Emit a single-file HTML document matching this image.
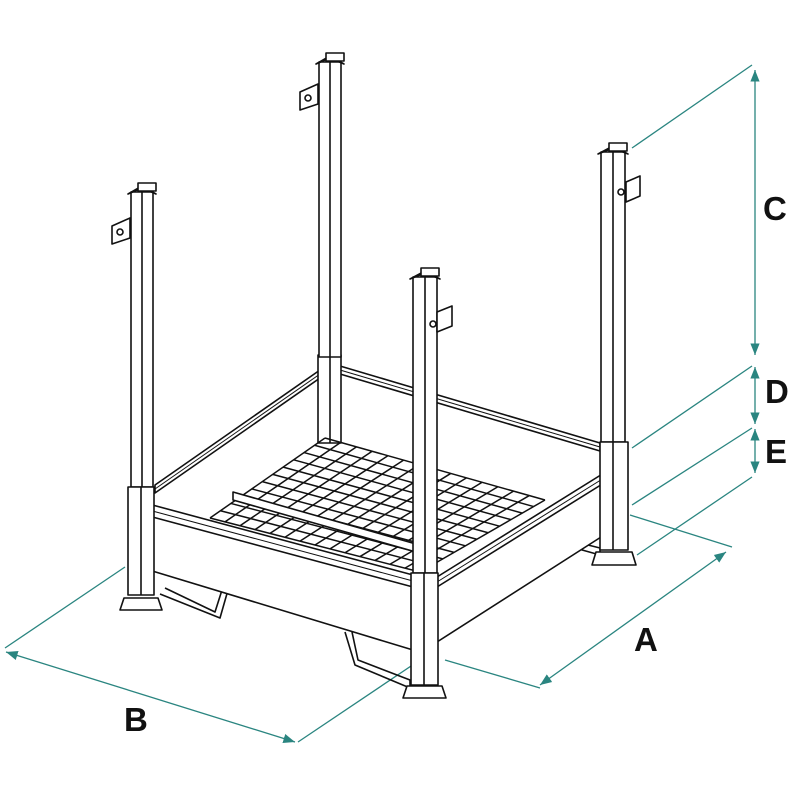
<!DOCTYPE html>
<html><head><meta charset="utf-8"><style>
html,body{margin:0;padding:0;background:#fff;width:800px;height:800px;overflow:hidden}
svg{display:block}
text{font-family:"Liberation Sans",sans-serif;font-weight:bold;font-size:33px;fill:#111}
</style></head><body>
<svg id="s" width="800" height="800" viewBox="0 0 800 800" xmlns="http://www.w3.org/2000/svg">
<defs>
<marker id="ar" viewBox="0 0 10 10" refX="10" refY="5" markerWidth="9" markerHeight="9" orient="auto-start-reverse"><path d="M0,1 L10,5 L0,9 z" fill="#2a8580"/></marker>
</defs>
<g stroke="#2a8580" stroke-width="1.3" fill="none">
<line x1="632" y1="148" x2="752" y2="65"/>
<line x1="755" y1="70" x2="755" y2="355" marker-start="url(#ar)" marker-end="url(#ar)"/>
<line x1="632" y1="448" x2="752" y2="366"/>
<line x1="755" y1="367" x2="755" y2="424" marker-start="url(#ar)" marker-end="url(#ar)"/>
<line x1="632" y1="505" x2="752" y2="428"/>
<line x1="755" y1="429" x2="755" y2="473" marker-start="url(#ar)" marker-end="url(#ar)"/>
<line x1="637" y1="555" x2="752" y2="477"/>
<line x1="445" y1="660" x2="540" y2="688"/>
<line x1="630" y1="515" x2="732" y2="547"/>
<line x1="540" y1="685" x2="726" y2="552" marker-start="url(#ar)" marker-end="url(#ar)"/>
<line x1="5" y1="648" x2="125" y2="567"/>
<line x1="298" y1="742" x2="420" y2="660"/>
<line x1="6" y1="652" x2="295" y2="742" marker-start="url(#ar)" marker-end="url(#ar)"/>
</g>
<text x="763" y="220">C</text>
<text x="765" y="403">D</text>
<text x="765" y="463">E</text>
<text x="634" y="651">A</text>
<text x="124" y="731">B</text>

<g id="draw" stroke="#111" stroke-width="1.6" fill="#fff" stroke-linejoin="round">
<path d="M165,588 L215,612 L222,590 L228,590 L220,618 L160,594" fill="none"/>
<path d="M345,632 L355,665 L410,688 L410,680 L358,660 L352,632" fill="none"/>
<path d="M575,548 L600,555 L600,548 L580,543" fill="none"/>
<path d="M155,485 L320,370 L320,378 L155,493 z"/>
<line x1="155" y1="489" x2="320" y2="374" stroke-width="1"/>
<path d="M340,366 L600,443 L600,451 L340,374 z"/>
<line x1="340" y1="370" x2="600" y2="447" stroke-width="1"/>
<rect x="318" y="355" width="23" height="88"/>
<line x1="330" y1="355" x2="330" y2="443"/>
<g id="grid" stroke-width="1.5" fill="none"></g>
<path d="M233,492 L430,548 L430,556 L233,500 z"/>
<path d="M145,503 L413,575 L413,650 L149,570 z"/>
<line x1="145" y1="515" x2="413" y2="587"/>
<line x1="145" y1="509" x2="413" y2="581" stroke-width="1"/>
<path d="M437,577 L612,468 L612,530 L437,642 z"/>
<line x1="437" y1="587" x2="612" y2="478"/>
<line x1="437" y1="582" x2="612" y2="473" stroke-width="1"/>
<rect x="131" y="192" width="22" height="295"/><line x1="142" y1="192" x2="142" y2="487"/>
<rect x="319" y="62" width="22" height="295"/><line x1="330" y1="62" x2="330" y2="357"/>
<rect x="601" y="152" width="24" height="290"/><line x1="613" y1="152" x2="613" y2="442"/>
<rect x="413" y="277" width="24" height="296"/><line x1="425" y1="277" x2="425" y2="573"/>
<path d="M128,194 L142,186 L156,194 L142,188 z"/><rect x="138" y="183" width="18" height="8"/>
<path d="M316,64 L330,56 L344,64 L330,58 z"/><rect x="326" y="53" width="18" height="8"/>
<path d="M598,154 L613,146 L628,154 L613,148 z"/><rect x="609" y="143" width="18" height="8"/>
<path d="M410,279 L425,271 L440,279 L425,273 z"/><rect x="421" y="268" width="18" height="8"/>
<path d="M112,226 L130,218 L130,238 L112,244 z"/><circle cx="120" cy="232" r="3"/>
<path d="M300,92 L318,84 L318,104 L300,110 z"/><circle cx="308" cy="98" r="3"/>
<path d="M626,182 L640,176 L640,196 L626,202 z"/><circle cx="621" cy="192" r="3"/>
<path d="M437,312 L452,306 L452,326 L437,332 z"/><circle cx="433" cy="324" r="3"/>
<rect x="128" y="487" width="26" height="108"/><line x1="141" y1="487" x2="141" y2="595"/>
<rect x="600" y="442" width="28" height="108"/><line x1="613" y1="442" x2="613" y2="550"/>
<rect x="411" y="573" width="27" height="112"/><line x1="424" y1="573" x2="424" y2="685"/>
<path d="M124,598 L158,598 L162,610 L120,610 z"/>
<path d="M596,552 L632,552 L636,565 L592,565 z"/>
<path d="M407,686 L442,686 L446,698 L403,698 z"/>
</g>
</svg>
<script>
(function(){
var g=document.getElementById('grid');
var L=[210,518],B=[325,438],R=[545,500],F=[420,572];
function lerp(a,b,t){return [a[0]+(b[0]-a[0])*t,a[1]+(b[1]-a[1])*t];}
function ln(p,q){var e=document.createElementNS('http://www.w3.org/2000/svg','line');
e.setAttribute('x1',p[0]);e.setAttribute('y1',p[1]);e.setAttribute('x2',q[0]);e.setAttribute('y2',q[1]);g.appendChild(e);}
var n=14,m=11;
for(var i=0;i<=n;i++){var t=i/n;ln(lerp(L,F,t),lerp(B,R,t));}
for(var j=0;j<=m;j++){var t=j/m;ln(lerp(L,B,t),lerp(F,R,t));}
})();
</script>
</body></html>
